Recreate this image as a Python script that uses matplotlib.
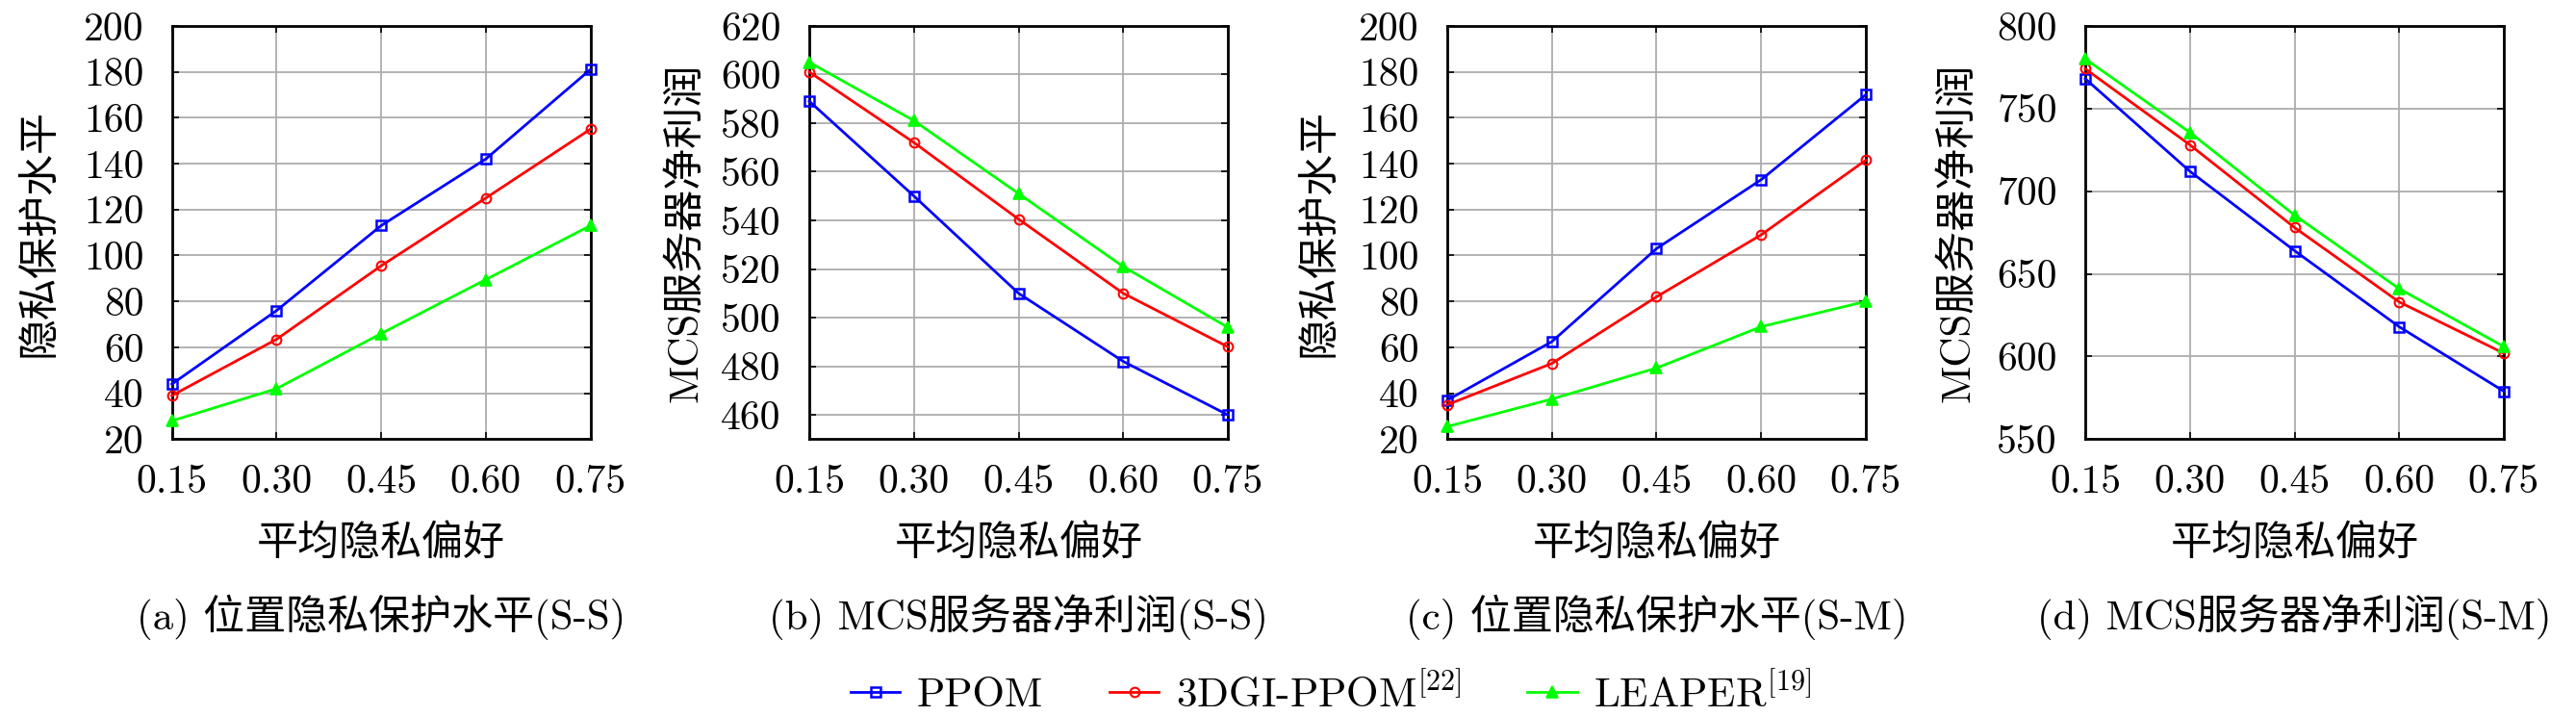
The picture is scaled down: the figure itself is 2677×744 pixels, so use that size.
import matplotlib
matplotlib.use('Agg')
import matplotlib.pyplot as plt
from matplotlib.lines import Line2D

plt.rcParams['font.family'] = ['cmr10', 'Noto Sans CJK SC', 'DejaVu Sans']
plt.rcParams['mathtext.fontset'] = 'cm'
plt.rcParams['axes.unicode_minus'] = False

# Data.
x_vals = [0.15, 0.30, 0.45, 0.60, 0.75]
x_labels = ['0.15', '0.30', '0.45', '0.60', '0.75']

a_ppom = [44, 76, 113, 142, 181]
a_3dgi = [39, 63.5, 95.5, 125, 155]
a_leaper = [28, 42, 66, 89.5, 113]

b_ppom = [589, 550, 510, 482, 460]
b_3dgi = [601, 572, 540.5, 510, 488]
b_leaper = [605, 581, 551, 521, 496]

c_ppom = [37, 62.5, 103, 133, 170]
c_3dgi = [35, 53, 82, 109, 141.5]
c_leaper = [25.5, 37.5, 51, 69, 80]

d_ppom = [768, 712, 664, 618, 579]
d_3dgi = [774, 728, 678, 633, 602]
d_leaper = [780, 735.5, 685.5, 641, 606]

series_names = ['PPOM', '3DGI-PPOM$^{[22]}$', 'LEAPER$^{[19]}$']

y_label_privacy = '隐私保护水平'
y_label_profit = 'MCS服务器净利润'
x_label = '平均隐私偏好'
captions = ['(a) 位置隐私保护水平(S-S)', '(b) MCS服务器净利润(S-S)',
            '(c) 位置隐私保护水平(S-M)', '(d) MCS服务器净利润(S-M)']

panels = [
    (a_ppom, a_3dgi, a_leaper, y_label_privacy, (20, 200), list(range(20, 201, 20))),
    (b_ppom, b_3dgi, b_leaper, y_label_profit, (450, 620), list(range(460, 621, 20))),
    (c_ppom, c_3dgi, c_leaper, y_label_privacy, (20, 200), list(range(20, 201, 20))),
    (d_ppom, d_3dgi, d_leaper, y_label_profit, (550, 800), list(range(550, 801, 50))),
]

# Figure in pixels: 2677 x 744.
W, H = 2677, 744
fig = plt.figure(figsize=(W / 100, H / 100), dpi=100)

ax_lefts = [178.6, 841, 1504, 2167]
ax_w, ax_top, ax_bottom = 435, 26.8, 456.4
ylabel_x = [-0.318, -0.294, -0.306, -0.303]

styles = [
    dict(color='#0000ff', marker='s', markerfacecolor='none', markersize=7, markeredgewidth=1.8),
    dict(color='#ff0000', marker='o', markerfacecolor='none', markersize=7, markeredgewidth=1.5),
    dict(color='#00ff00', marker='^', markerfacecolor='#00ff00', markersize=8.5, markeredgewidth=1.2),
]

for i, (p1, p2, p3, ylab, ylim, yticks) in enumerate(panels):
    ax = fig.add_axes([ax_lefts[i] / W, 1 - ax_bottom / H, ax_w / W, (ax_bottom - ax_top) / H])
    for vals, st in zip([p1, p2, p3], styles):
        ax.plot(x_vals, vals, linewidth=2.0, clip_on=False, zorder=3, **st)
    ax.set_xlim(0.15, 0.75)
    ax.set_ylim(*ylim)
    ax.set_xticks(x_vals)
    ax.set_xticklabels(x_labels)
    ax.set_yticks(yticks)
    ax.set_yticklabels([str(v) for v in yticks])
    ax.grid(True, color='0.68', linewidth=1.3)
    ax.set_axisbelow(True)
    ax.tick_params(direction='in', length=5, width=1.2, top=True, right=True, labelsize=30)
    ax.tick_params(axis='y', pad=21)
    ax.tick_params(axis='x', pad=19)
    for sp in ax.spines.values():
        sp.set_linewidth(2.0)
    ax.set_xlabel(x_label, fontsize=31, va='center')
    ax.xaxis.set_label_coords(0.5, -108.6 / (ax_bottom - ax_top))
    ax.set_ylabel(ylab, fontsize=31, va='center')
    ax.yaxis.set_label_coords(ylabel_x[i], 0.5)
    fig.text((ax_lefts[i] + ax_w / 2) / W, 1 - 641 / H, captions[i],
             fontsize=31, ha='center', va='center')

handles = [Line2D([], [], linewidth=2.0, **st) for st in styles]
fig.legend(handles, series_names, loc='center', bbox_to_anchor=(1383 / W, 1 - 720 / H),
           ncol=3, frameon=False, fontsize=31, handlelength=1.2, handletextpad=0.4,
           columnspacing=1.6, borderpad=0)

fig.savefig('out.png', dpi=100)
